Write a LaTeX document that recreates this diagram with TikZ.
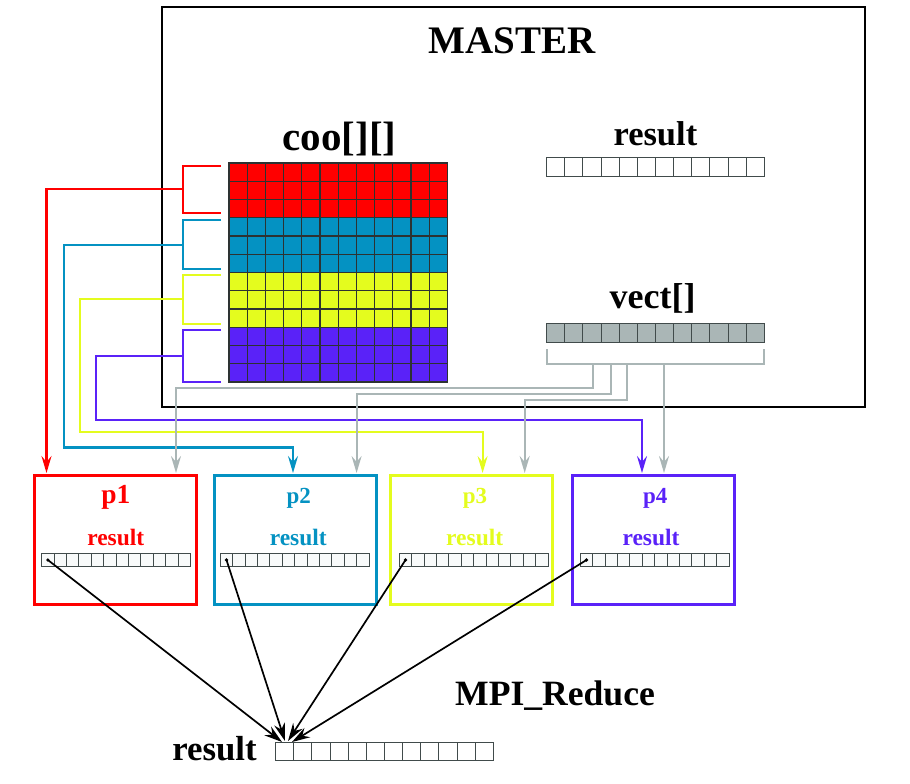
\documentclass[tikz,border=0pt]{standalone}
\usepackage{fontspec}
\setmainfont{Liberation Serif}
\usetikzlibrary{arrows.meta}
\definecolor{cred}{RGB}{255,0,0}
\definecolor{cblue}{RGB}{4,146,194}
\definecolor{cyel}{RGB}{228,252,30}
\definecolor{cpur}{RGB}{90,34,248}
\definecolor{cgray}{RGB}{170,182,182}
\definecolor{cgrid}{RGB}{45,50,50}
\definecolor{ccell}{RGB}{65,75,75}
\definecolor{cfill}{RGB}{248,250,250}
\newcommand\fsz[1]{\fontsize{#1pt}{#1pt}\selectfont}
\begin{document}
\begin{tikzpicture}[x=1pt,y=-1pt,
  ctip/.style={-{Stealth[length=17pt,width=10pt,inset=6pt]}},
  conn/.style={line width=2.2pt, ctip},
  brk/.style={line width=2.2pt},
  gline/.style={line width=2.2pt, cgray},
  gconn/.style={gline, ctip},
  pbox/.style={draw, line width=3pt, minimum width=162pt, minimum height=129pt, inner sep=0pt},
  lbl/.style={font=\bfseries, anchor=base, inner sep=0pt},
  blk/.style={line width=1.7pt, black, -{Stealth[length=18pt,width=11pt,inset=6pt]}},
  mcell/.style={draw=cgrid, line width=1.1pt},
  acell/.style={draw=ccell, line width=1pt},
]
\useasboundingbox (0,0) rectangle (910,784);

% master box
\node[draw, line width=1.4pt, minimum width=703pt, minimum height=400pt, inner sep=0pt] (master) at (513.5,207) {};
\node[lbl] (mtitle) at (512,53.3) {\fsz{39}MASTER};
\node[lbl] (cootxt) at (339.5,150) {\fsz{41}coo[][]};
\node[lbl] (restxt) at (655.4,145) {\fsz{34.5}result};
\node[lbl] (vecttxt) at (652.7,308.3) {\fsz{36}vect[]};

% matrix
\foreach \c [count=\g from 0] in {cred,cblue,cyel,cpur} {
  \foreach \r in {0,1,2} {
    \foreach \k in {0,...,11} {
      \draw[mcell, fill=\c] ({229+\k*18.2},{163+(\g*3+\r)*18.25}) rectangle ++(18.2,18.25);
    }
  }
}

% master result array and vect array
\foreach \k in {0,...,11} {
  \draw[acell, fill=white] ({546.7+\k*18.133},157.5) rectangle ++(18.133,18.8);
  \draw[acell, fill=cgray] ({546.7+\k*18.133},323.3) rectangle ++(18.133,19);
}

% p boxes
\node[pbox, draw=cred] (p1) at (115.9,539.7) {};
\node[pbox, draw=cblue] (p2) at (295,539.7) {};
\node[pbox, draw=cyel] (p3) at (471.9,539.7) {};
\node[pbox, draw=cpur] (p4) at (653.8,539.7) {};
\node[lbl, text=cred] (p1t) at (115.9,503.3) {\fsz{27.5}p1};
\node[lbl, text=cblue] (p2t) at (298.7,503.3) {\fsz{23}p2};
\node[lbl, text=cyel] (p3t) at (475,503.3) {\fsz{23}p3};
\node[lbl, text=cpur] (p4t) at (655.3,503.3) {\fsz{23}p4};
\node[lbl, text=cred] (r1t) at (115.8,545) {\fsz{23.5}result};
\node[lbl, text=cblue] (r2t) at (298.3,545) {\fsz{23.5}result};
\node[lbl, text=cyel] (r3t) at (474.7,545) {\fsz{23.5}result};
\node[lbl, text=cpur] (r4t) at (651,545) {\fsz{23.5}result};

% p arrays
\foreach \x in {41.7,220.3,399.3,580.3} {
  \foreach \k in {0,...,11} {
    \draw[acell, fill=cfill] ({\x+\k*12.4},553.7) rectangle ++(12.4,12.6);
  }
}

% bottom labels and array
\node[lbl] (bres) at (214.5,760) {\fsz{34.8}result};
\node[lbl] (mpi) at (555,705) {\fsz{35.6}MPI\_Reduce};
\foreach \k in {0,...,11} {
  \draw[acell, fill=white] ({275.7+\k*18.133},742.3) rectangle ++(18.133,18.4);
}

% brackets on the matrix
\draw[brk, cred] (221,165.7) -| (182.7,213) -- (221,213);
\draw[brk, cblue] (221,220) -| (182.7,269.3) -- (221,269.3);
\draw[brk, cyel] (221,275) -| (182.7,323.7) -- (221,323.7);
\draw[brk, cpur] (221,330) -| (182.7,381.7) -- (221,381.7);
\coordinate (bR) at (182.7,189);
\coordinate (bB) at (182.7,245);
\coordinate (bY) at (182.7,299);
\coordinate (bP) at (182.7,356);
\coordinate (tR) at (46.5,473);
\coordinate (tB) at (293,473);
\coordinate (tY) at (482.6,473);
\coordinate (tP) at (642,473);

\draw[conn, cred] (bR) -| (tR);
\draw[conn, cblue] (bB) -| (64,447.5) -| (tB);
\draw[conn, cyel] (bY) -| (80,432) -| (tY);
\draw[conn, cpur] (bP) -| (96,420) -| (tP);

% gray bracket under vect
\draw[gline] (546.7,349) |- (764,364) -- (764,349);
\coordinate (g1) at (593,364);
\coordinate (g2) at (611,364);
\coordinate (g3) at (627,364);
\coordinate (g4) at (664,364);
\coordinate (tg1) at (176,473);
\coordinate (tg2) at (356.6,473);
\coordinate (tg3) at (524.7,473);
\coordinate (tg4) at (664,473);
\draw[gconn] (g1) -- ++(0,24) -| (tg1);
\draw[gconn] (g2) -- ++(0,30) -| (tg2);
\draw[gconn] (g3) -- ++(0,36) -| (tg3);
\draw[gconn] (g4) -- (tg4);

% reduce arrows
\coordinate (s1) at (47.9,560);
\coordinate (s2) at (226.5,560);
\coordinate (s3) at (405.5,560);
\coordinate (s4) at (586.5,560);
\coordinate (e1) at (282,742);
\coordinate (e2) at (285,741);
\coordinate (e3) at (288,741);
\coordinate (e4) at (292,742);
\foreach \i in {1,2,3,4} {
  \fill (s\i) circle (1.8pt);
  \draw[blk] (s\i) -- (e\i);
}
\end{tikzpicture}
\end{document}
